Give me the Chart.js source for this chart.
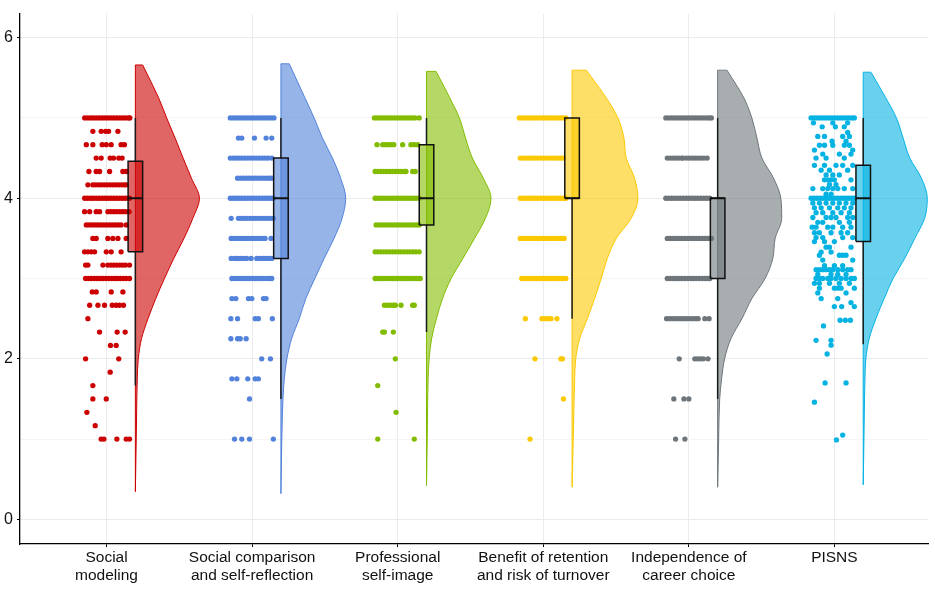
<!DOCTYPE html>
<html>
<head>
<meta charset="utf-8">
<script src="https://cdn.jsdelivr.net/npm/chart.js@4.4.1/dist/chart.umd.min.js"></script>
<style>
  html, body { margin: 0; padding: 0; background: #fff; }
</style>
</head>
<body>
<canvas id="chart" width="935" height="589"></canvas>
<script>
// categories on the x axis (one raincloud each)
const categories = [
  ['Social', 'modeling'],
  ['Social comparison', 'and self-reflection'],
  ['Professional', 'self-image'],
  ['Benefit of retention', 'and risk of turnover'],
  ['Independence of', 'career choice'],
  ['PISNS'],
];
const yTicks = [0, 1, 2, 3, 4, 5, 6];

// boxplot stats
const q1 = [3.333, 3.25, 3.667, 4.0, 3.0, 3.46];
const median = [4, 4, 4, 4, 4, 4];
const q3 = [4.46, 4.5, 4.667, 5.0, 4.0, 4.41];
const whiskerLow = [1.667, 1.5, 2.333, 2.5, 1.5, 2.18];
const whiskerHigh = [5, 5, 5, 5, 5, 5];

// half violins: width (in category units) at each level
const violinLevels = [1.0, 1.5, 1.75, 2.0, 2.25, 2.5, 2.75, 3.0, 3.25, 3.5, 3.75, 4.0, 4.25, 4.5, 4.75, 5.0, 5.25];
const violinWidths = [
  [0.006, 0.010, 0.013, 0.020, 0.042, 0.087, 0.140, 0.200, 0.264, 0.334, 0.395, 0.440, 0.385, 0.328, 0.273, 0.215, 0.160],
  [0.006, 0.014, 0.023, 0.041, 0.073, 0.126, 0.171, 0.233, 0.297, 0.365, 0.420, 0.445, 0.410, 0.354, 0.285, 0.228, 0.165],
  [0.005, 0.008, 0.011, 0.018, 0.035, 0.068, 0.110, 0.169, 0.250, 0.330, 0.405, 0.443, 0.390, 0.315, 0.268, 0.226, 0.160],
  [0.008, 0.014, 0.018, 0.025, 0.052, 0.105, 0.155, 0.200, 0.242, 0.304, 0.406, 0.452, 0.429, 0.372, 0.356, 0.315, 0.235],
  [0.007, 0.014, 0.027, 0.048, 0.091, 0.167, 0.235, 0.326, 0.379, 0.395, 0.440, 0.434, 0.384, 0.304, 0.270, 0.235, 0.180],
  [0.005, 0.009, 0.012, 0.018, 0.041, 0.087, 0.144, 0.205, 0.285, 0.354, 0.422, 0.440, 0.400, 0.320, 0.274, 0.228, 0.155],
];
const violinBottom = [0.345, 0.32, 0.42, 0.40, 0.40, 0.43];
const violinTop = [5.66, 5.675, 5.58, 5.595, 5.595, 5.57];
const violinTopWidth = [0.050, 0.057, 0.066, 0.098, 0.064, 0.053];

// jittered raw scores: [score, horizontal offsets from the category centre]
const dotsSocialModeling = [
  [5.000, [-0.15, -0.13, -0.11, -0.09, -0.07, -0.05, -0.03, -0.01, 0.01, 0.03, 0.05, 0.07, 0.09, 0.11, 0.13, 0.15, 0.16]],
  [4.833, [-0.094, -0.037, -0.007, 0.014, 0.078]],
  [4.667, [-0.139, -0.094, -0.03, -0.002, 0.032, 0.1, 0.123]],
  [4.500, [-0.071, -0.037, 0.025, 0.048, 0.084, 0.107]],
  [4.333, [-0.121, -0.071, -0.048, 0.021, 0.112, 0.135]],
  [4.167, [-0.128, -0.094, -0.075, -0.055, -0.035, -0.015, 0.005, 0.025, 0.045, 0.065, 0.085, 0.105, 0.123, 0.135]],
  [4.000, [-0.15, -0.13, -0.11, -0.09, -0.07, -0.05, -0.03, -0.01, 0.01, 0.03, 0.05, 0.07, 0.09, 0.11, 0.13, 0.15, 0.158]],
  [3.833, [-0.151, -0.116, -0.071, -0.048, 0.009, 0.03, 0.05, 0.07, 0.09, 0.11, 0.13, 0.155]],
  [3.667, [-0.139, -0.12, -0.1, -0.08, -0.06, -0.04, -0.02, 0, 0.02, 0.04, 0.06, 0.08, 0.1, 0.135]],
  [3.500, [-0.094, -0.071, 0.009, 0.043, 0.078, 0.135]],
  [3.333, [-0.151, -0.128, -0.105, -0.082, -0.002, 0.032, 0.1]],
  [3.167, [-0.144, -0.128, -0.025, 0.009, 0.03, 0.05, 0.07, 0.09, 0.11, 0.13, 0.158]],
  [3.000, [-0.144, -0.125, -0.105, -0.085, -0.065, -0.045, -0.025, -0.005, 0.015, 0.035, 0.055, 0.075, 0.095, 0.115, 0.135, 0.158]],
  [2.833, [-0.098, -0.071, 0.032, 0.112]],
  [2.667, [-0.116, -0.059, -0.014, 0.039, 0.066, 0.089, 0.116]],
  [2.500, [-0.128]],
  [2.333, [-0.048, 0.073, 0.128]],
  [2.167, [0.027, 0.066]],
  [2.000, [-0.144, 0.084]],
  [1.833, [0.025]],
  [1.667, [-0.094]],
  [1.500, [-0.094, -0.002]],
  [1.333, [-0.135]],
  [1.167, [-0.078]],
  [1.000, [-0.037, -0.018, 0.071, 0.135, 0.158]],
];
const dotsSocialComparison = [
  [5.00, [-0.15, -0.13, -0.11, -0.09, -0.07, -0.05, -0.03, -0.01, 0.01, 0.03, 0.05, 0.07, 0.09, 0.11, 0.13, 0.15]],
  [4.75, [-0.094, -0.071, 0.016, 0.096, 0.135]],
  [4.50, [-0.15, -0.13, -0.11, -0.09, -0.07, -0.05, -0.03, -0.01, 0.01, 0.03, 0.05, 0.07, 0.09, 0.11, 0.135]],
  [4.25, [-0.1, -0.08, -0.06, -0.04, -0.02, 0, 0.02, 0.04, 0.06, 0.08, 0.1, 0.12, 0.135]],
  [4.00, [-0.15, -0.13, -0.11, -0.09, -0.07, -0.05, -0.03, -0.01, 0.01, 0.03, 0.05, 0.07, 0.09, 0.11, 0.13, 0.146]],
  [3.75, [-0.144, -0.094, -0.075, -0.055, -0.035, -0.015, 0.005, 0.025, 0.045, 0.065, 0.085, 0.105, 0.125, 0.146]],
  [3.50, [-0.144, -0.125, -0.105, -0.085, -0.065, -0.045, -0.025, -0.005, 0.015, 0.035, 0.055, 0.075, 0.089, 0.13]],
  [3.25, [-0.144, -0.12, -0.1, -0.08, -0.06, -0.037, -0.007, 0.032, 0.055, 0.075, 0.095, 0.115, 0.135]],
  [3.00, [-0.139, -0.12, -0.1, -0.08, -0.06, -0.04, -0.02, 0, 0.02, 0.04, 0.06, 0.08, 0.1, 0.12, 0.135]],
  [2.75, [-0.139, -0.112, -0.025, -0.002, 0.078, 0.096]],
  [2.50, [-0.146, -0.1, 0.021, 0.043, 0.139]],
  [2.25, [-0.146, -0.1, -0.082, -0.041]],
  [2.00, [0.066, 0.126]],
  [1.75, [-0.139, -0.105, -0.03, 0.021, 0.043]],
  [1.50, [-0.018]],
  [1.00, [-0.121, -0.071, -0.018, 0.146]],
];
const dotsSelfImage = [
  [5.000, [-0.16, -0.14, -0.12, -0.1, -0.08, -0.06, -0.04, -0.02, 0, 0.02, 0.04, 0.06, 0.08, 0.1, 0.12, 0.148]],
  [4.667, [-0.142, -0.103, -0.085, -0.065, -0.045, -0.027, 0.034, 0.091, 0.113, 0.137]],
  [4.333, [-0.155, -0.135, -0.115, -0.095, -0.075, -0.055, -0.035, -0.015, 0.005, 0.025, 0.045, 0.057, 0.103, 0.121]],
  [4.000, [-0.155, -0.135, -0.115, -0.095, -0.075, -0.055, -0.035, -0.015, 0.005, 0.025, 0.045, 0.065, 0.085, 0.105, 0.125, 0.148]],
  [3.667, [-0.148, -0.128, -0.108, -0.088, -0.068, -0.048, -0.028, -0.008, 0.012, 0.032, 0.052, 0.072, 0.092, 0.112, 0.132, 0.148]],
  [3.333, [-0.155, -0.135, -0.115, -0.095, -0.075, -0.055, -0.035, -0.015, 0.005, 0.025, 0.045, 0.065, 0.085, 0.105, 0.125, 0.148]],
  [3.000, [-0.155, -0.135, -0.115, -0.095, -0.075, -0.055, -0.035, -0.015, 0.005, 0.025, 0.045, 0.065, 0.085, 0.105, 0.125, 0.14, 0.155]],
  [2.667, [-0.091, -0.07, -0.05, -0.03, -0.016, 0.023, 0.103, 0.114]],
  [2.333, [-0.103, -0.091, -0.03]],
  [2.000, [-0.016]],
  [1.667, [-0.137]],
  [1.333, [-0.011]],
  [1.000, [-0.137, 0.114]],
];
const dotsRetention = [
  [5.0, [-0.164, -0.144, -0.124, -0.104, -0.084, -0.064, -0.044, -0.024, -0.004, 0.016, 0.036, 0.056, 0.076, 0.096, 0.116, 0.136, 0.155]],
  [4.5, [-0.158, -0.138, -0.118, -0.098, -0.078, -0.058, -0.038, -0.018, 0.002, 0.022, 0.042, 0.062, 0.082, 0.102, 0.122, 0.139]],
  [4.0, [-0.158, -0.138, -0.118, -0.098, -0.078, -0.058, -0.038, -0.018, 0.002, 0.022, 0.042, 0.062, 0.082, 0.102, 0.122, 0.142, 0.155]],
  [3.5, [-0.158, -0.138, -0.118, -0.098, -0.078, -0.058, -0.038, -0.018, 0.002, 0.022, 0.042, 0.062, 0.082, 0.102, 0.122, 0.144]],
  [3.0, [-0.148, -0.128, -0.108, -0.088, -0.068, -0.048, -0.028, -0.008, 0.012, 0.032, 0.052, 0.072, 0.092, 0.112, 0.132, 0.155]],
  [2.5, [-0.123, -0.009, 0.01, 0.03, 0.053, 0.094]],
  [2.0, [-0.057, 0.121, 0.132]],
  [1.5, [0.139]],
  [1.0, [-0.091]],
];
const dotsIndependence = [
  [5.0, [-0.158, -0.138, -0.118, -0.098, -0.078, -0.058, -0.038, -0.018, 0.002, 0.022, 0.042, 0.062, 0.082, 0.102, 0.122, 0.142, 0.155]],
  [4.5, [-0.148, -0.128, -0.108, -0.088, -0.068, -0.048, -0.039, -0.016, 0.004, 0.024, 0.044, 0.064, 0.084, 0.104, 0.126]],
  [4.0, [-0.158, -0.138, -0.118, -0.098, -0.078, -0.058, -0.038, -0.018, 0.002, 0.022, 0.042, 0.062, 0.082, 0.102, 0.122, 0.144]],
  [3.5, [-0.148, -0.128, -0.108, -0.088, -0.068, -0.048, -0.028, -0.008, 0.012, 0.032, 0.052, 0.072, 0.092, 0.112, 0.132, 0.155]],
  [3.0, [-0.148, -0.128, -0.108, -0.088, -0.068, -0.048, -0.028, -0.008, 0.012, 0.032, 0.052, 0.072, 0.092, 0.112, 0.132, 0.144]],
  [2.5, [-0.153, -0.133, -0.113, -0.093, -0.073, -0.053, -0.033, -0.013, 0.007, 0.027, 0.047, 0.064, 0.11, 0.139]],
  [2.0, [-0.066, 0.041, 0.06, 0.08, 0.1, 0.132]],
  [1.5, [-0.103, -0.034, 0]],
  [1.0, [-0.091, -0.027]],
];
const dotsPISNS = [
  [5.00, [-0.16, -0.14, -0.12, -0.1, -0.08, -0.06, -0.04, -0.02, 0, 0.02, 0.04, 0.06, 0.08, 0.1, 0.12, 0.137]],
  [4.94, [-0.144, -0.011, 0.091]],
  [4.89, [-0.084, 0.007, 0.068]],
  [4.82, [0.091]],
  [4.77, [-0.114, -0.068, 0.057, 0.103]],
  [4.71, [-0.016, 0.08]],
  [4.66, [-0.103, -0.068, -0.011, 0.068, 0.103]],
  [4.60, [-0.137, 0.126]],
  [4.55, [-0.08, 0.034, 0.114]],
  [4.50, [-0.126, -0.057, 0.068]],
  [4.41, [-0.137, -0.068, 0.011, 0.057, 0.126]],
  [4.35, [-0.091, -0.034, 0.091]],
  [4.29, [-0.057, -0.011, 0.034]],
  [4.23, [-0.068, -0.046, -0.023, 0, 0.114]],
  [4.17, [-0.034, 0.011]],
  [4.12, [-0.148, -0.08, -0.046, -0.011, 0.023, 0.068, 0.126]],
  [4.05, [-0.057, -0.023]],
  [4.00, [-0.16, -0.14, -0.12, -0.1, -0.08, -0.06, -0.04, -0.02, 0, 0.02, 0.04, 0.06, 0.08, 0.1, 0.12, 0.137]],
  [3.94, [-0.148, -0.103, -0.057, -0.011, 0.034, 0.08, 0.126]],
  [3.88, [-0.137, -0.091, -0.034, 0.023, 0.068, 0.114]],
  [3.82, [-0.126, -0.08, -0.011, 0.046, 0.103]],
  [3.76, [-0.148, -0.057, -0.023, 0.011, 0.091, 0.126]],
  [3.70, [-0.114, -0.08, 0.034, 0.103]],
  [3.64, [-0.153, -0.126, -0.046, -0.011, 0.057, 0.114]],
  [3.57, [-0.137, -0.103, -0.023, 0.046, 0.091]],
  [3.51, [-0.126, -0.08, 0.057, 0.126]],
  [3.46, [-0.137, -0.068, 0]],
  [3.39, [-0.057, -0.034, 0.114]],
  [3.33, [-0.091, -0.023]],
  [3.29, [-0.103, 0.034, 0.057, 0.08]],
  [3.23, [-0.08, 0.126]],
  [3.16, [-0.068, 0, 0.057]],
  [3.11, [-0.126, -0.103, -0.08, -0.057, -0.034, -0.011, 0.023, 0.057, 0.091, 0.114]],
  [3.05, [-0.114, -0.023, 0.023, 0.08]],
  [3.00, [-0.126, -0.103, -0.08, -0.046, -0.023, 0.011, 0.046, 0.08, 0.114, 0.137]],
  [2.94, [-0.137, -0.103, -0.034, 0.034, 0.103]],
  [2.88, [-0.103, 0, 0.023, 0.046, 0.137]],
  [2.82, [-0.114, 0.08]],
  [2.75, [-0.091, 0.023]],
  [2.70, [0.114]],
  [2.65, [0, 0.05, 0.137]],
  [2.48, [0.039, 0.075, 0.11]],
  [2.41, [-0.075]],
  [2.23, [-0.126, -0.023]],
  [2.17, [-0.023]],
  [2.06, [-0.05]],
  [1.70, [-0.064, 0.08]],
  [1.46, [-0.137]],
  [1.05, [0.057]],
  [0.99, [0.014]],
];
const dotRows = [dotsSocialModeling, dotsSocialComparison, dotsSelfImage, dotsRetention, dotsIndependence, dotsPISNS];

// styles
const palette = ['#CC0000', '#5282DA', '#82BC00', '#FCC800', '#6E767B', '#05B3E3'];
const FONT = '"Liberation Sans", Arial, Helvetica, sans-serif';
const FLAT = 0.198;      // where the flat side of the half violin sits
const BOX_HALF = 0.05;   // half width of the box

function rgba(hex, a) {
  const n = parseInt(hex.slice(1), 16);
  return `rgba(${(n >> 16) & 255},${(n >> 8) & 255},${n & 255},${a})`;
}

const datasets = [];
categories.forEach((cat, i) => {
  const c = i + 1;
  const flat = c + FLAT;
  const col = palette[i];

  // raw points
  datasets.push({
    type: 'scatter',
    data: dotRows[i].flatMap(([y, offs]) => offs.map(o => ({ x: c + o, y }))),
    backgroundColor: col,
    borderWidth: 0,
    pointRadius: 2.65,
    order: 6,
  });

  // half violin, filled back to its flat side
  datasets.push({
    type: 'line',
    indexAxis: 'y',
    data: [
      { x: flat, y: violinBottom[i] },
      ...violinLevels.map((lv, k) => ({ x: flat + violinWidths[i][k], y: lv })),
      { x: flat + violinTopWidth[i], y: violinTop[i] },
    ],
    cubicInterpolationMode: 'monotone',
    fill: { value: flat },
    backgroundColor: rgba(col, 0.6),
    borderColor: col,
    borderWidth: 1,
    pointRadius: 0,
    order: 5,
  });
  // flat side + top outline
  datasets.push({
    type: 'line',
    data: [
      { x: flat, y: violinBottom[i] },
      { x: flat, y: violinTop[i] },
      { x: flat + violinTopWidth[i], y: violinTop[i] },
    ],
    borderColor: col,
    borderWidth: 1,
    pointRadius: 0,
    fill: false,
    tension: 0,
    order: 4,
  });

  // whiskers
  datasets.push({
    type: 'line',
    data: [
      { x: flat, y: whiskerLow[i] }, { x: flat, y: q1[i] },
      { x: flat, y: null },
      { x: flat, y: q3[i] }, { x: flat, y: whiskerHigh[i] },
    ],
    borderColor: '#1a1a1a',
    borderWidth: 1.5,
    pointRadius: 0,
    fill: false,
    spanGaps: false,
    order: 3,
  });

  // box
  datasets.push({
    type: 'line',
    data: [
      { x: flat - BOX_HALF, y: q1[i] }, { x: flat + BOX_HALF, y: q1[i] },
      { x: flat + BOX_HALF, y: q3[i] }, { x: flat - BOX_HALF, y: q3[i] },
      { x: flat - BOX_HALF, y: q1[i] },
    ],
    fill: 'shape',
    backgroundColor: rgba(col, 0.6),
    borderColor: '#111',
    borderWidth: 1.5,
    pointRadius: 0,
    tension: 0,
    order: 2,
  });

  // median
  datasets.push({
    type: 'line',
    data: [{ x: flat - BOX_HALF, y: median[i] }, { x: flat + BOX_HALF, y: median[i] }],
    borderColor: '#111',
    borderWidth: 2.2,
    pointRadius: 0,
    fill: false,
    order: 1,
  });
});

new Chart(document.getElementById('chart'), {
  type: 'scatter',
  data: { datasets },
  options: {
    responsive: false,
    animation: false,
    devicePixelRatio: 1,
    layout: { padding: { top: 6, right: 7, left: 0, bottom: 0 } },
    plugins: { legend: { display: false }, tooltip: { enabled: false } },
    events: [],
    scales: {
      x: {
        type: 'linear',
        min: 0.4055,
        max: 6.643,
        afterBuildTicks: s => { s.ticks = categories.map((_, i) => ({ value: i + 1 })); },
        afterFit: s => { s.height = 45; },
        ticks: {
          autoSkip: false,
          maxRotation: 0,
          minRotation: 0,
          padding: 2,
          color: '#111',
          font: { family: FONT, size: 15.5, lineHeight: 1.13 },
          callback: v => categories[Math.round(v) - 1],
        },
        grid: { color: '#ececec', lineWidth: 1, tickLength: 3, tickColor: '#000' },
        border: { display: true, color: '#000', width: 1.3 },
      },
      y: {
        type: 'linear',
        min: -0.307,
        max: 6.30,
        afterBuildTicks: s => { s.ticks = yTicks.map(v => ({ value: v })); },
        afterFit: s => { s.width = 20; },
        ticks: {
          padding: 4,
          color: '#111',
          font: { family: FONT, size: 16 },
          callback: v => (v % 2 === 0 ? String(v) : ''),
        },
        grid: {
          color: ctx => (ctx.tick && ctx.tick.value % 2 ? '#f5f5f5' : '#ebebeb'),
          lineWidth: 1,
          tickLength: 3,
          tickColor: ctx => (ctx.tick && ctx.tick.value % 2 ? 'rgba(0,0,0,0)' : '#000'),
        },
        border: { display: true, color: '#000', width: 1.3 },
      },
    },
  },
});
</script>
</body>
</html>
